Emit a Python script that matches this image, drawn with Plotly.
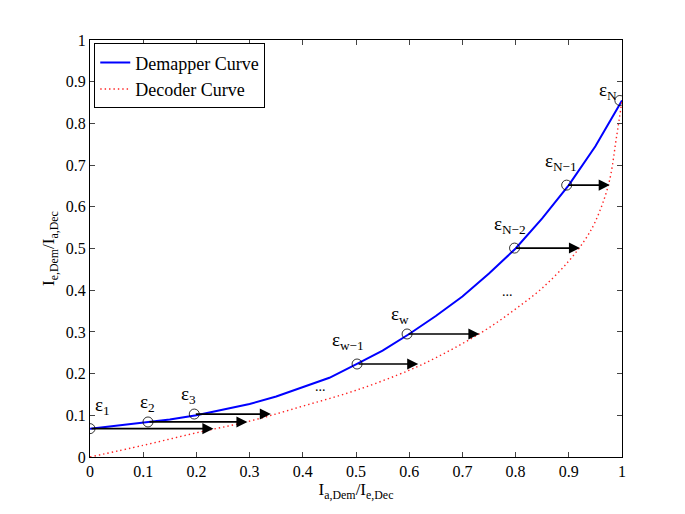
import plotly.graph_objects as go

# Demapper curve
dem_x = [0, 0.05, 0.1, 0.15, 0.2, 0.25, 0.3, 0.35, 0.4, 0.45, 0.5, 0.55, 0.6, 0.65, 0.7, 0.75, 0.8, 0.85, 0.9, 0.95, 1.0]
dem_y = [0.068, 0.075, 0.082, 0.09, 0.1, 0.113, 0.127, 0.145, 0.167, 0.19, 0.222, 0.255, 0.295, 0.338, 0.385, 0.44, 0.5, 0.572, 0.652, 0.745, 0.855]

# Decoder curve
dec_x = [0, 0.1, 0.2, 0.3, 0.4, 0.5, 0.6, 0.65, 0.7, 0.75, 0.8, 0.85, 0.9, 0.93, 0.95, 0.975, 0.99, 1.0]
dec_y = [0, 0.028, 0.058, 0.086, 0.122, 0.16, 0.208, 0.238, 0.272, 0.31, 0.355, 0.405, 0.47, 0.52, 0.565, 0.655, 0.77, 0.855]

# Points epsilon
eps_x = [0, 0.109, 0.196, 0.502, 0.596, 0.798, 0.896, 0.996]
eps_y = [0.068, 0.084, 0.103, 0.223, 0.295, 0.501, 0.652, 0.855]
eps_lab = ["1", "2", "3", "w\u22121", "w", "N\u22122", "N\u22121", "N"]
# Arrow tips (on decoder curve), None = no arrow
arrow_end_x = [0.232, 0.296, 0.34, 0.617, 0.732, 0.921, 0.977, None]
# label offsets (data units)
lab_dx = [0.023, 0.0, -0.011, -0.017, -0.013, -0.009, -0.011, -0.022]
lab_dy = [0.055, 0.046, 0.046, 0.055, 0.046, 0.056, 0.056, 0.022]

tick_vals = [0, 0.1, 0.2, 0.3, 0.4, 0.5, 0.6, 0.7, 0.8, 0.9, 1]
tick_text = ["0", "0.1", "0.2", "0.3", "0.4", "0.5", "0.6", "0.7", "0.8", "0.9", "1"]

font = "Liberation Serif, Times New Roman, serif"

fig = go.Figure()
fig.add_trace(go.Scatter(x=dem_x, y=dem_y, mode="lines", name="Demapper Curve",
                         line=dict(color="#0000ff", width=2)))
fig.add_trace(go.Scatter(x=dec_x, y=dec_y, mode="lines", name="Decoder Curve",
                         line=dict(color="#ff2020", width=1.4, dash="1.4px,3px"), line_shape="spline"))
fig.add_trace(go.Scatter(x=eps_x, y=eps_y, mode="markers", showlegend=False,
                         marker=dict(symbol="circle-open", size=10, color="black", line=dict(width=0.8))))

annotations = []
for x0, y0, xe in zip(eps_x, eps_y, arrow_end_x):
    if xe is None:
        continue
    annotations.append(dict(x=xe, y=y0, ax=x0, ay=y0, xref="x", yref="y", axref="x", ayref="y",
                            showarrow=True, arrowhead=2, arrowsize=1.3, arrowwidth=1.7,
                            arrowcolor="black", standoff=0, startstandoff=0, text=""))
for x0, y0, lab, dx, dy in zip(eps_x, eps_y, eps_lab, lab_dx, lab_dy):
    annotations.append(dict(x=x0 + dx, y=y0 + dy, xref="x", yref="y", showarrow=False,
                            text="\u03b5<sub>" + lab + "</sub>", font=dict(family=font, size=19, color="black")))
for xd, yd in [(0.433, 0.17), (0.785, 0.397)]:
    annotations.append(dict(x=xd, y=yd, xref="x", yref="y", showarrow=False, text="...",
                            font=dict(family=font, size=14, color="black")))

fig.update_layout(
    width=669, height=498,
    margin=dict(l=82, r=55, t=32, b=49),
    paper_bgcolor="white", plot_bgcolor="white",
    font=dict(family=font, size=16, color="black"),
    showlegend=True,
    legend=dict(x=0.008, y=0.992, xanchor="left", yanchor="top", bgcolor="white",
                bordercolor="black", borderwidth=1, font=dict(family=font, size=18),
                tracegroupgap=0, itemwidth=30),
    annotations=annotations,
    xaxis=dict(range=[0, 1], tickvals=tick_vals, ticktext=tick_text, ticks="inside", ticklen=5,
               showline=True, linecolor="black", linewidth=1, mirror="ticks", showgrid=False,
               zeroline=False, title=dict(text="I<sub>a,Dem</sub>/I<sub>e,Dec</sub>", standoff=2,
                                          font=dict(size=17))),
    yaxis=dict(range=[0, 1], tickvals=tick_vals, ticktext=tick_text, ticks="inside", ticklen=5,
               showline=True, linecolor="black", linewidth=1, mirror="ticks", showgrid=False,
               zeroline=False, title=dict(text="I<sub>e,Dem</sub>/I<sub>a,Dec</sub>", standoff=6,
                                          font=dict(size=17))),
)

fig.write_html("out.html")
